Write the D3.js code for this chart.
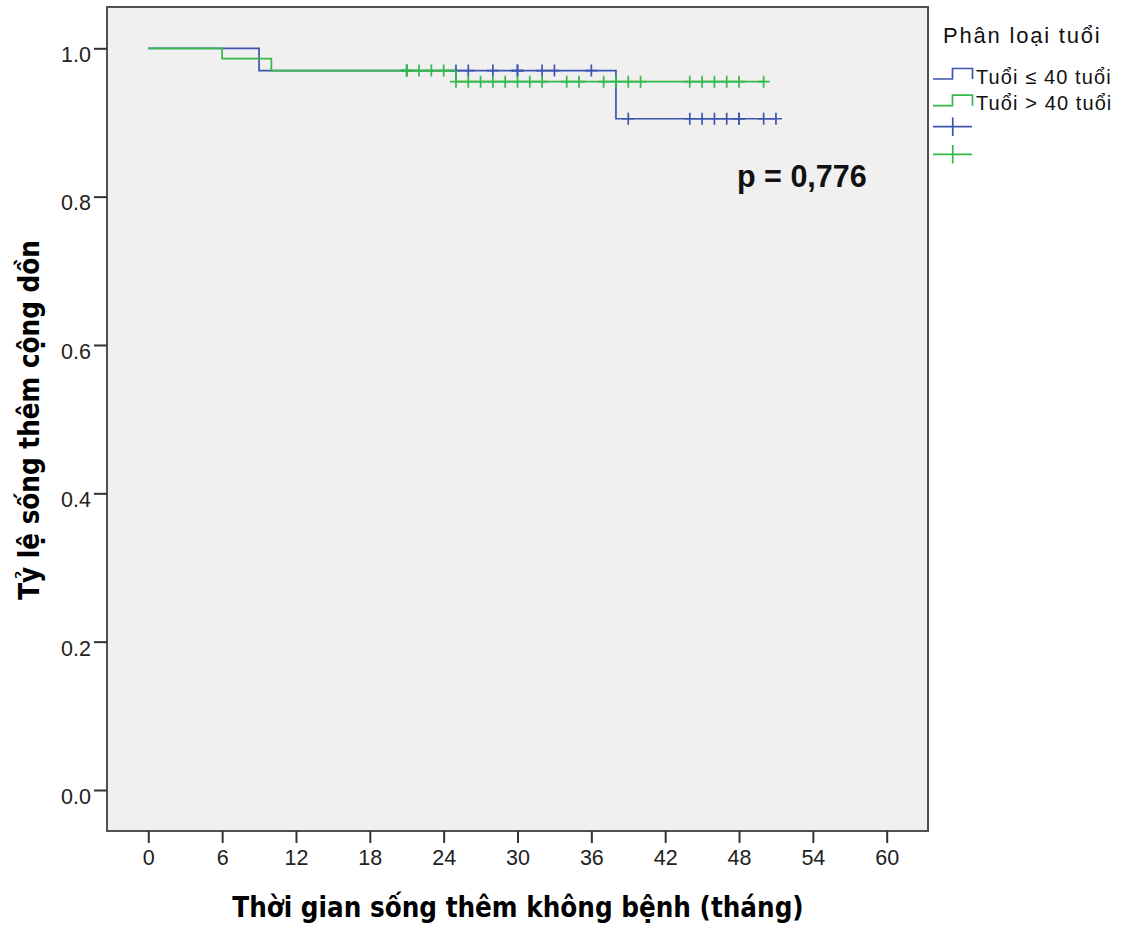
<!DOCTYPE html>
<html>
<head>
<meta charset="utf-8">
<script src="https://cdn.jsdelivr.net/npm/d3@7"></script>
<style>
  html, body { margin: 0; padding: 0; background: #ffffff; }
  svg { display: block; }
</style>
</head>
<body>
<svg id="chart" width="1124" height="928"></svg>
<script>
// Kaplan–Meier curves: disease-free survival by age group
const groups = ["Tuổi ≤ 40 tuổi", "Tuổi > 40 tuổi"];
const groupColors = ["#3e55ae", "#34b848"];

// Step points [month, cumulative survival]; last point is the end of follow-up
const youngSteps = [[0, 1.0], [9, 0.970], [38, 0.905], [51, 0.905]];
const olderSteps = [[0, 1.0], [6, 0.986], [10, 0.970], [25, 0.955], [50, 0.955]];

// Censored observations (months)
const youngCensored = [21, 25, 26, 28, 30, 30, 32, 33, 36, 39, 44, 45, 46, 47, 48, 48, 50, 51];
const olderCensored = [21, 21, 22, 23, 24, 25, 26, 27, 28, 29, 30, 31, 32, 34, 35, 37, 38, 39, 40,
                       44, 45, 46, 47, 48, 50];

const xTicks = [0, 6, 12, 18, 24, 30, 36, 42, 48, 54, 60];
const yTicks = [0.0, 0.2, 0.4, 0.6, 0.8, 1.0];

const pLabel = "p = 0,776";
const xTitle = "Thời gian sống thêm không bệnh (tháng)";
const yTitle = "Tỷ lệ sống thêm cộng dồn";
const legendTitle = "Phân loại tuổi";

const svg = d3.select("#chart");

const frame = { left: 107, top: 7, right: 928, bottom: 831 };
const x = d3.scaleLinear().domain([0, 60]).range([148.3, 886.7]);
const y = d3.scaleLinear().domain([0, 1]).range([790, 48.3]);

// plot background and frame
svg.append("rect")
  .attr("x", frame.left).attr("y", frame.top)
  .attr("width", frame.right - frame.left).attr("height", frame.bottom - frame.top)
  .attr("fill", "#f0f0f0").attr("stroke", "#505050").attr("stroke-width", 2);

// axes
const tickFont = "'Liberation Sans', Arial, sans-serif";
const xAxis = svg.append("g")
  .attr("transform", `translate(0,${frame.bottom})`)
  .call(d3.axisBottom(x).tickValues(xTicks).tickSize(12).tickPadding(7).tickFormat(d3.format("d")));
const yAxis = svg.append("g")
  .attr("transform", `translate(${frame.left},0)`)
  .call(d3.axisLeft(y).tickValues(yTicks).tickSize(13).tickPadding(3).tickFormat(d3.format(".1f")));
[xAxis, yAxis].forEach(g => {
  g.select(".domain").remove();
  g.selectAll(".tick line").attr("stroke", "#333").attr("stroke-width", 2);
  g.selectAll(".tick text")
    .attr("fill", "#222")
    .style("font-family", tickFont)
    .style("font-size", "21.5px");
});
yAxis.selectAll(".tick text").attr("dy", "0.62em");

// survival at time t from a step list
function survivalAt(steps, t) {
  let s = steps[0][1];
  for (const [time, val] of steps) { if (time <= t) s = val; }
  return s;
}

const line = d3.line()
  .x(d => x(d[0])).y(d => y(d[1]))
  .curve(d3.curveStepAfter);

const series = [
  { steps: youngSteps, censored: youngCensored, color: groupColors[0] },
  { steps: olderSteps, censored: olderCensored, color: groupColors[1] }
];

const arm = 6;
series.forEach(s => {
  const g = svg.append("g");
  g.append("path")
    .attr("d", line(s.steps))
    .attr("fill", "none").attr("stroke", s.color).attr("stroke-width", 1.7);
  g.selectAll("path.censor")
    .data(s.censored)
    .join("path")
    .attr("class", "censor")
    .attr("d", t => {
      const cx = x(t), cy = y(survivalAt(s.steps, t));
      return `M${cx - arm},${cy}H${cx + arm}M${cx},${cy - arm}V${cy + arm}`;
    })
    .attr("fill", "none").attr("stroke", s.color).attr("stroke-width", 1.7);
});

// p-value annotation
svg.append("text")
  .attr("x", 737).attr("y", 187)
  .style("font-family", "'Liberation Sans', Arial, sans-serif")
  .style("font-weight", "bold").style("font-size", "30.5px")
  .attr("fill", "#111")
  .text(pLabel);

// axis titles
const titleFont = "'DejaVu Sans Condensed', 'DejaVu Sans', sans-serif";
svg.append("text")
  .attr("x", 518).attr("y", 917)
  .attr("text-anchor", "middle")
  .style("font-family", titleFont).style("font-stretch", "condensed")
  .style("font-weight", "bold").style("font-size", "27.5px")
  .attr("fill", "#000")
  .text(xTitle);
svg.append("text")
  .attr("transform", "translate(39,420) rotate(-90)")
  .attr("text-anchor", "middle")
  .style("font-family", titleFont).style("font-stretch", "condensed")
  .style("font-weight", "bold").style("font-size", "27.5px")
  .attr("fill", "#000")
  .text(yTitle);

// legend
const legend = svg.append("g");
legend.append("text")
  .attr("x", 943).attr("y", 43)
  .style("font-family", tickFont).style("font-size", "22px")
  .style("letter-spacing", "1.8px")
  .attr("fill", "#111")
  .text(legendTitle);

const lx0 = 933, lx1 = 952.5, lx2 = 972.5;
groups.forEach((name, i) => {
  const low = 79 + i * 26.7, high = low - 10.5;
  legend.append("path")
    .attr("d", `M${lx0},${low}H${lx1}V${high}H${lx2}V${low}`)
    .attr("fill", "none").attr("stroke", groupColors[i]).attr("stroke-width", 1.7);
  legend.append("text")
    .attr("x", 976).attr("y", 84 + i * 25.5)
    .style("font-family", tickFont).style("font-size", "20px")
    .style("letter-spacing", "1.1px")
    .attr("fill", "#111")
    .text(name);
});
groups.forEach((name, i) => {
  const cy = 126.7 + i * 27.6, cx = (lx0 + lx2) / 2;
  legend.append("path")
    .attr("d", `M${lx0},${cy}H${lx2 - 0.5}M${cx},${cy - 9.3}V${cy + 9.3}`)
    .attr("fill", "none").attr("stroke", groupColors[i]).attr("stroke-width", 1.7);
});
</script>
</body>
</html>
